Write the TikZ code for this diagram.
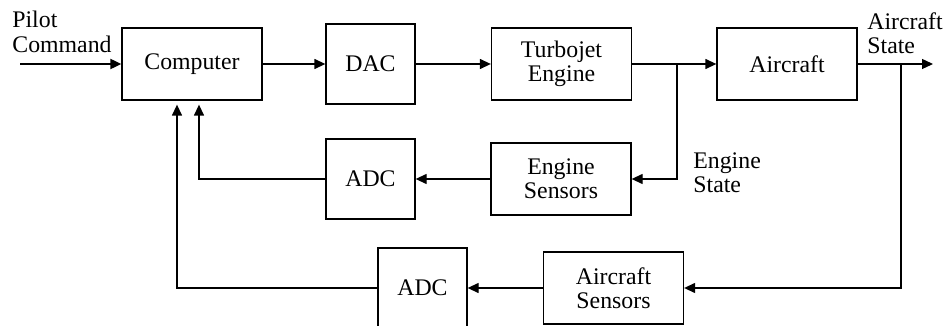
\documentclass[tikz,border=0pt]{standalone}
\usepackage{fontspec}
\setmainfont{Liberation Serif}
\usetikzlibrary{arrows.meta, positioning, calc}

\begin{document}
\begin{tikzpicture}[x=0.5pt, y=-0.5pt,
  blk/.style = {rectangle, draw=black, line width=0.65pt, inner sep=0pt,
                font=\fontsize{11.9}{12.2}\selectfont, align=center},
  wide/.style = {blk, minimum width=70pt, minimum height=36pt},
  narrow/.style = {blk, minimum width=44.5pt, minimum height=40pt},
  sig/.style = {-{Triangle[length=5.5pt, width=5pt]}, line width=0.65pt},
  lbl/.style = {font=\fontsize{11.9}{12.4}\selectfont, align=left,
                inner sep=0pt, anchor=north west},
]
  \useasboundingbox (0,0) rectangle (948,326);

  \node[wide]   (computer)        at (192,   64)  {Computer};
  \node[narrow] (dac)             at (370.5, 64)  {DAC};
  \node[wide]   (turbojet)        at (561.5, 64)  {Turbojet\\Engine};
  \node[wide]   (aircraft)        at (787,   64)  {Aircraft};
  \node[narrow] (adcengine)       at (370.5, 179) {ADC};
  \node[wide]   (enginesensors)   at (561,   179) {Engine\\Sensors};
  \node[wide]   (aircraftsensors) at (613.5, 288) {Aircraft\\Sensors};
  \node[narrow] (adcaircraft)     at (422.5, 288) {ADC};

  \node[lbl] (pilotcmd)      at (12,  11)  {Pilot\\Command};
  \node[lbl] (aircraftstate) at (867, 12)  {Aircraft\\State};
  \node[lbl] (enginestate)   at (693, 152) {Engine\\State};

  \coordinate (cmdin)       at (20,  64);
  \coordinate (stateout)    at (933, 64);
  \coordinate (enginetap)   at (677, 64);
  \coordinate (aircrafttap) at (901, 64);

  \draw[sig, line width=1pt] (cmdin) -- (computer);
  \draw[sig] (computer) -- (dac);
  \draw[sig] (dac)      -- (turbojet);
  \draw[sig] (turbojet) -- (aircraft);
  \draw[sig] (aircraft) -- (stateout);
  \draw[sig] (enginetap)   |- (enginesensors);
  \draw[sig] (aircrafttap) |- (aircraftsensors);
  \draw[sig] (enginesensors)   -- (adcengine);
  \draw[sig] (aircraftsensors) -- (adcaircraft);
  \draw[sig, shorten >=2pt] (adcengine)   -| ($(computer.south)+(7,0)$);
  \draw[sig, shorten >=2pt] (adcaircraft) -| ($(computer.south)+(-15,0)$);
\end{tikzpicture}
\end{document}
